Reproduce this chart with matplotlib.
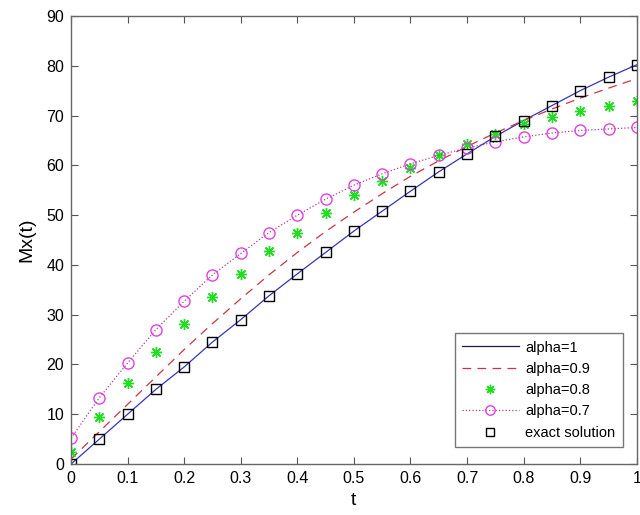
import matplotlib
matplotlib.use("Agg")
import matplotlib.pyplot as plt
import numpy as np

t = np.linspace(0, 1, 21)

exact = [0, 5.0, 10.0, 15.0, 19.5, 24.5, 29.0, 33.8, 38.2, 42.5, 46.8,
         50.8, 54.8, 58.7, 62.3, 65.8, 69.0, 72.0, 75.0, 77.7, 80.2]
alpha_1 = exact
alpha_09 = [1.0, 6.5, 12.0, 17.5, 23.0, 28.2, 33.2, 38.0, 42.5, 46.7, 50.6,
            54.3, 57.8, 60.9, 63.8, 66.5, 69.0, 71.3, 73.5, 75.5, 77.4]
alpha_08 = [2.5, 9.5, 16.3, 22.5, 28.2, 33.5, 38.2, 42.7, 46.5, 50.5, 54.0,
            56.8, 59.5, 62.0, 64.2, 66.3, 68.2, 69.7, 71.0, 72.0, 73.0]
alpha_07 = [5.2, 13.3, 20.3, 27.0, 32.7, 38.0, 42.3, 46.5, 50.0, 53.2, 56.0,
            58.3, 60.3, 62.0, 63.5, 64.7, 65.7, 66.5, 67.0, 67.3, 67.6]

plt.rcParams["font.family"] = ["Liberation Sans", "DejaVu Sans"]

fig = plt.figure(figsize=(6.4, 5.15), dpi=100)
ax = fig.add_axes([0.111, 0.099, 0.884, 0.870])

ax.plot(t, alpha_1, "-", color="#3535b5", lw=0.9, label="alpha=1")
ax.plot(t, alpha_09, color="#cc3344", lw=0.9, dashes=(7, 5), label="alpha=0.9")
ax.plot(t, alpha_08, ls="none", marker=(8, 2, 0), ms=8, mew=1.0,
        color="#22dd22", label="alpha=0.8")
ax.plot(t, alpha_07, ls=":", color="#a0409a", lw=0.9, marker="o", ms=8,
        mfc="none", mec="#e040e0", mew=1.0, label="alpha=0.7")
ax.plot(t, exact, ls="none", marker="s", ms=6.5, mfc="none", mec="black",
        mew=1.0, label="exact solution")

ax.set_xlim(0, 1)
ax.set_ylim(0, 90)
ax.set_xticks(np.arange(0, 1.01, 0.1))
ax.set_xticklabels(["0", "0.1", "0.2", "0.3", "0.4", "0.5", "0.6", "0.7", "0.8", "0.9", "1"])
ax.set_yticks(np.arange(0, 91, 10))
ax.tick_params(direction="in", length=5, width=0.8, top=True, right=True,
               labelsize=11.5, colors="#555555", labelcolor="black", pad=5)
for s in ax.spines.values():
    s.set_color("#666666")
    s.set_linewidth(1.0)

ax.set_xlabel("t", fontsize=14, labelpad=4)
ax.set_ylabel("Mx(t)", fontsize=14, labelpad=8)

leg = ax.legend(loc="lower right", bbox_to_anchor=(0.975, 0.038), borderaxespad=0,
                fontsize=10.5, fancybox=False, edgecolor="#777777", framealpha=1,
                handlelength=3.9, borderpad=0.5, labelspacing=0.5,
                handletextpad=0.45, markerscale=0.85)
leg.get_frame().set_linewidth(1.0)
leg.get_lines()[0].set_color("#1a1a4a")

fig.savefig("out.png", dpi=100)
